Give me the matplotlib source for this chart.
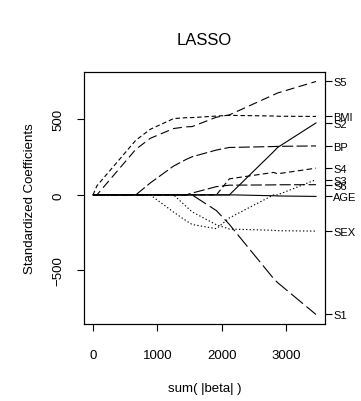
import matplotlib
matplotlib.use("Agg")
import matplotlib.pyplot as plt
import numpy as np

plt.rcParams['font.family'] = ['Liberation Sans', 'DejaVu Sans']

# LASSO path (diabetes data): sum(|beta|) at each step and the coefficients
names = ["AGE", "SEX", "BMI", "BP", "S1", "S2", "S3", "S4", "S5", "S6"]
coefs = np.array([
    [0, 0, 0, 0, 0, 0, 0, 0, 0, 0],
    [0, 0, 60.12, 0, 0, 0, 0, 0, 0, 0],
    [0, 0, 361.89, 0, 0, 0, 0, 0, 301.78, 0],
    [0, 0, 434.76, 79.24, 0, 0, 0, 0, 374.92, 0],
    [0, 0, 505.66, 191.27, 0, 0, -114.10, 0, 439.66, 0],
    [0, -74.92, 511.35, 234.15, 0, 0, -169.71, 0, 450.67, 0],
    [0, -111.98, 512.04, 252.53, 0, 0, -196.05, 0, 452.39, 12.08],
    [0, -197.76, 522.26, 297.16, -103.95, 0, -223.93, 0, 514.75, 54.77],
    [0, -226.13, 526.89, 314.39, -195.11, 0, -152.48, 106.34, 529.92, 64.49],
    [0, -227.18, 526.39, 314.95, -237.34, 33.63, -134.60, 111.38, 545.48, 64.61],
    [-5.72, -234.40, 522.65, 320.34, -554.27, 286.74, 0, 148.90, 663.03, 66.33],
    [-7.01, -237.10, 521.08, 321.55, -580.44, 313.86, 0, 139.86, 674.94, 67.18],
    [-10.01, -239.82, 519.84, 324.39, -792.18, 476.75, 101.04, 177.06, 751.28, 67.63],
])
sum_abs = np.abs(coefs).sum(axis=1)

styles = {
    "AGE": "-", "SEX": (0, (1.2, 2)), "BMI": (0, (4, 2.5)), "BP": (0, (10, 3)),
    "S1": (0, (14, 4)), "S2": "-", "S3": (0, (1.2, 2)), "S4": (0, (5, 3)),
    "S5": (0, (8, 4)), "S6": (0, (10, 3)),
}

fig = plt.figure(figsize=(3.61, 4.02), dpi=100)
ax = fig.add_axes([0.233, 0.192, 0.667, 0.626])

for j, nm in enumerate(names):
    ax.plot(sum_abs, coefs[:, j], color="black", lw=0.8, linestyle=styles[nm])

span = sum_abs[-1]
ax.set_xlim(-0.04 * span, 1.04 * span)
lo, hi = coefs.min(), coefs.max()
ax.set_ylim(lo - 0.04 * (hi - lo), hi + 0.04 * (hi - lo))

ax.set_xticks([0, 1000, 2000, 3000])
ax.set_yticks([-500, 0, 500])
ax.set_yticklabels(["\u2212500", "0", "500"], rotation=90, va="center")
ax.tick_params(direction="out", length=5, width=0.8, labelsize=9.5)
ax.tick_params(axis="x", pad=13)
ax.tick_params(axis="y", pad=9)
for s in ax.spines.values():
    s.set_linewidth(0.8)

ax.set_xlabel("sum( |beta| )", fontsize=9.5, labelpad=15)
ax.set_ylabel("Standardized Coefficients", fontsize=9.5, labelpad=12)

# right axis with variable names at the final coefficients
ax2 = ax.twinx()
ax2.set_ylim(ax.get_ylim())
ax2.set_yticks(coefs[-1])
ax2.set_yticklabels(names)
ax2.tick_params(direction="out", length=5, width=0.8, labelsize=8, pad=1)

fig.text(0.566, 0.90, "LASSO", ha="center", va="center", fontsize=12)

fig.savefig("out.png", dpi=100)
